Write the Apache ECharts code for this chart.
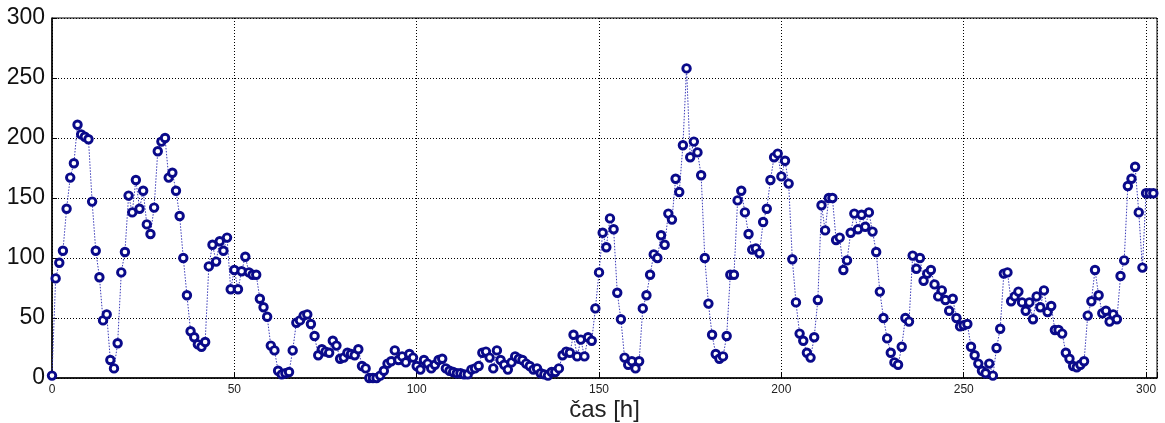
<!DOCTYPE html>
<html>
<head>
<meta charset="utf-8">
<script src="https://cdn.jsdelivr.net/npm/echarts@6/dist/echarts.min.js"></script>
<style>
  html, body { margin: 0; padding: 0; background: #fff; }
  #chart { width: 1165px; height: 423px; }
</style>
</head>
<body>
<div id="chart"></div>
<script>
// hodnoty po hodinách, 0 .. 302
const hours = []
const values = [
  2, 83, 96, 106, 141, 167, 179, 211, 203, 201,
  199, 147, 106, 84, 48, 53, 15, 8, 29, 88,
  105, 152, 138, 165, 141, 156, 128, 120, 142, 189,
  197, 200, 167, 171, 156, 135, 100, 69, 39, 34,
  28, 26, 30, 93, 111, 97, 114, 106, 117, 74,
  90, 74, 89, 101, 88, 86, 86, 66, 59, 51,
  27, 23, 6, 3, 4, 5, 23, 46, 48, 52,
  53, 45, 35, 19, 24, 22, 21, 31, 27, 16,
  17, 21, 20, 19, 24, 10, 8, 0, 0, 0,
  2, 6, 12, 14, 23, 15, 18, 13, 20, 17,
  10, 7, 15, 12, 8, 11, 15, 16, 8, 6,
  5, 4, 4, 3, 3, 7, 8, 10, 21, 22,
  17, 8, 23, 15, 11, 7, 13, 18, 16, 15,
  12, 10, 7, 8, 4, 3, 2, 5, 5, 8,
  19, 22, 21, 36, 18, 32, 18, 34, 31, 58,
  88, 121, 109, 133, 124, 71, 49, 17, 11, 14,
  8, 14, 58, 69, 86, 103, 100, 119, 111, 137,
  132, 166, 155, 194, 258, 184, 197, 188, 169, 100,
  62, 36, 20, 16, 18, 35, 86, 86, 148, 156,
  138, 120, 107, 108, 104, 130, 141, 165, 184, 187,
  168, 181, 162, 99, 63, 37, 31, 21, 17, 34,
  65, 144, 123, 150, 150, 115, 117, 90, 98, 121,
  137, 124, 136, 126, 138, 122, 105, 72, 50, 33,
  21, 13, 11, 26, 50, 47, 102, 91, 100, 81,
  87, 90, 78, 68, 73, 65, 56, 66, 50, 43,
  44, 45, 26, 19, 12, 6, 4, 12, 2, 25,
  41, 87, 88, 64, 68, 72, 63, 56, 63, 49,
  68, 59, 73, 55, 60, 40, 40, 37, 21, 16,
  10, 9, 11, 14, 52, 64, 90, 69, 54, 56,
  47, 53, 49, 85, 98, 160, 166, 176, 138, 92,
  154, 154, 154
]
for (let i = 0; i < values.length; i++) hours.push(i)

const xTicks = [0, 50, 100, 150, 200, 250, 300]
const yTicks = [0, 50, 100, 150, 200, 250, 300]

const points = hours.map((h, i) => [h, values[i]])

const chart = echarts.init(document.getElementById('chart'))

const option = {
  animation: false,
  grid: {
    left: 52,
    right: 8,
    top: 18,
    bottom: 45,
    containLabel: false,
    outerBoundsMode: 'none',
    show: true,
    borderColor: '#000',
    borderWidth: 1
  },
  xAxis: {
    type: 'value',
    min: 0,
    max: 303,
    interval: 50,
    name: 'čas [h]',
    nameLocation: 'middle',
    nameGap: 20,
    nameMoveOverlap: false,
    nameTextStyle: { fontFamily: 'Liberation Sans', fontSize: 24, color: '#222' },
    axisLine: { show: true, lineStyle: { color: '#000', width: 1.5 } },
    axisTick: { show: true, inside: true, length: 5, lineStyle: { color: '#000' } },
    axisLabel: {
      fontFamily: 'Liberation Sans',
      fontSize: 12,
      color: '#222',
      margin: 6,
      formatter: v => (xTicks.indexOf(v) >= 0 ? String(v) : '')
    },
    splitLine: { show: true, lineStyle: { color: '#000', width: 1, type: [1, 2] } }
  },
  yAxis: {
    type: 'value',
    min: 0,
    max: 300,
    interval: 50,
    axisLine: { show: true, lineStyle: { color: '#000', width: 1.5 } },
    axisTick: { show: true, inside: true, length: 5, lineStyle: { color: '#000' } },
    axisLabel: {
      fontFamily: 'Liberation Sans',
      fontSize: 23,
      color: '#111',
      margin: 7,
      formatter: v => (yTicks.indexOf(v) >= 0 ? String(v) : '')
    },
    splitLine: { show: true, lineStyle: { color: '#000', width: 1, type: [1, 2] } }
  },
  series: [
    {
      type: 'line',
      data: points,
      symbol: 'circle',
      symbolSize: 7.5,
      showAllSymbol: true,
      lineStyle: { color: '#3a3ab8', width: 1, type: [1.5, 1.5] },
      itemStyle: { color: '#ffffff', borderColor: '#0a0a8a', borderWidth: 2.9 }
    }
  ]
}

chart.setOption(option)
</script>
</body>
</html>
